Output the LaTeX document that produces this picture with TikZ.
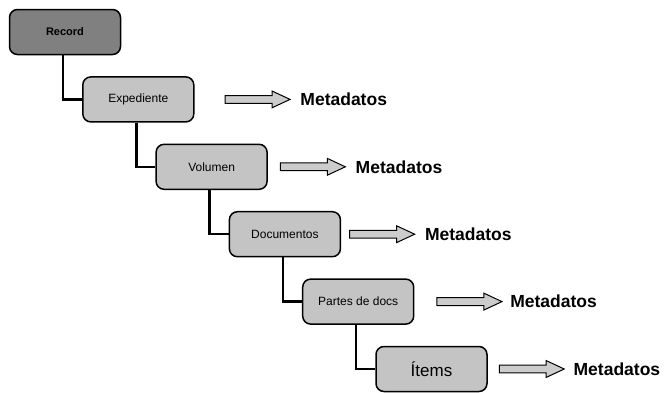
\documentclass[tikz,border=0pt]{standalone}
\usepackage{fontspec}
\setmainfont{Liberation Sans}
\usetikzlibrary{positioning,shapes.arrows}
\tikzset{>=stealth}
\definecolor{darkbox}{gray}{0.5}
\definecolor{lightbox}{gray}{0.77}
\definecolor{arrowgray}{gray}{0.8}
\tikzset{
  level/.style={draw, line width=1.5pt, rounded corners=8pt, fill=lightbox,
    minimum width=111pt, minimum height=45pt, inner sep=0pt,
    font=\fontsize{12}{14}\selectfont},
  link/.style={line width=2.5pt},
  metaarrow/.style={single arrow, draw, line width=1pt, fill=arrowgray,
    minimum height=65pt, inner sep=3.4pt,
    single arrow head extend=4.5pt, single arrow tip angle=50},
  meta/.style={inner sep=0pt, font=\bfseries\fontsize{17.5}{21}\selectfont}
}

\begin{document}
\begin{tikzpicture}[x=1pt,y=-1pt]
            \useasboundingbox (0,0) rectangle (664,392);

            % Draw the levels
            \node[level, fill=darkbox, font=\bfseries\fontsize{11}{13}\selectfont] (rec) at (65,32) {Record};
            \node[level] (exp) at (138.3,99.4) {Expediente};
            \node[level] (vol) at (211.6,166.8) {Volumen};
            \node[level] (doc) at (284.9,234.2) {Documentos};
            \node[level] (par) at (358.2,301.6) {Partes de docs};
            \node[level, font=\fontsize{17}{20}\selectfont] (ite) at (431.5,369) {Ítems};

            % Draw links between levels
            \draw[link] ([xshift=-2pt]rec.south) |- (exp.west);
            \draw[link] ([xshift=-2pt]exp.south) |- (vol.west);
            \draw[link] ([xshift=-2pt]vol.south) |- (doc.west);
            \draw[link] ([xshift=-2pt]doc.south) |- (par.west);
            \draw[link] ([xshift=-2pt]par.south) |- (ite.west);

            % Draw metadata arrows
            \node[metaarrow, right=30pt of exp] (aexp) {};
            \node[metaarrow, right=12pt of vol] (avol) {};
            \node[metaarrow, right=8pt of doc] (adoc) {};
            \node[metaarrow, right=22pt of par] (apar) {};
            \node[metaarrow, right=11pt of ite] (aite) {};

            % Add labels
            \node[meta, right=9pt of aexp] (mexp) {Metadatos};
            \node[meta, right=9pt of avol] (mvol) {Metadatos};
            \node[meta, right=9pt of adoc] (mdoc) {Metadatos};
            \node[meta, right=7pt of apar] (mpar) {Metadatos};
            \node[meta, right=8pt of aite] (mite) {Metadatos};
\end{tikzpicture}
\end{document}
